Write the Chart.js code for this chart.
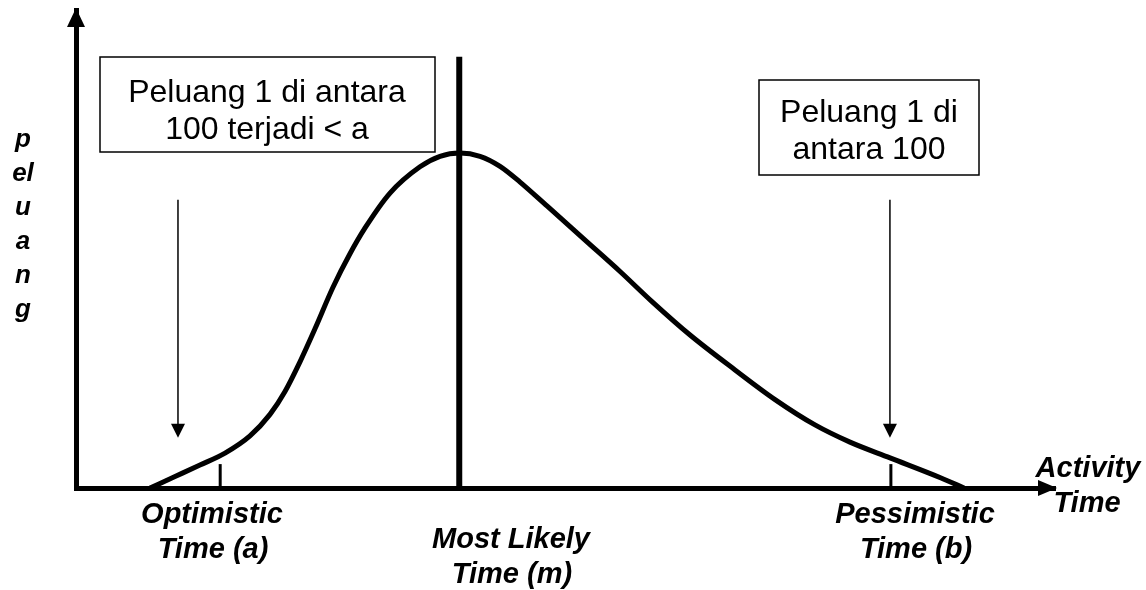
<!DOCTYPE html>
<html lang="en">
<head>
    <meta charset="UTF-8">
    <title>Distribusi Waktu Aktivitas</title>
    <script src="https://cdn.jsdelivr.net/npm/chart.js"></script>
    <style>
        body { margin: 0; background: #fff; }
        #wrap { width: 1146px; height: 590px; }
    </style>
</head>
<body>
<div id="wrap"><canvas id="chart" width="1146" height="590"></canvas></div>
<script>
// curve (x = activity time, y = peluang)
const timeX = [7.80, 10.44, 13.07, 15.71, 18.34, 20.45, 22.03, 23.61, 25.19, 27.09, 28.88, 30.47, 33.10, 36.26,
    38.37, 40.48, 42.59, 44.70, 46.81, 49.65, 53.87, 57.35, 60.72, 64.73, 69.47, 73.69, 77.90, 81.59, 85.81, 91.19, 93.61];
const peluangY = [0, 2.4, 4.8, 7.3, 10.9, 15.4, 20.2, 26.4, 33.3, 42.0, 49.0, 54.4, 61.7, 67.2,
    69.4, 70.1, 69.4, 67.3, 64.0, 59.0, 51.5, 45.3, 39.0, 32.0, 24.7, 18.5, 13.2, 9.6, 6.3, 2.1, 0];

const tOptimistic = 15.2;   // a
const tMostLikely = 40.4;   // m
const tPessimistic = 85.9;  // b
const tickTop = 5.0;
const modeTop = 90.2;

// the two "1 in 100" arrows: x, from y, to y
const arrowX = [10.75, 85.8];
const arrowFrom = 60.3;
const arrowTo = 10.5;

const boxTexts = [['Peluang 1 di antara', '100 terjadi < a'], ['Peluang 1 di', 'antara 100']];
const bottomLabels = [['Optimistic', 'Time (a)'], ['Most Likely', 'Time (m)'], ['Pessimistic', 'Time (b)']];
const axisLabelX = ['Activity', 'Time'];
const axisLabelY = ['p', 'el', 'u', 'a', 'n', 'g'];

const curve = timeX.map((x, i) => ({ x: x, y: peluangY[i] }));

// arrows, boxes and texts on top of the chart
const extras = {
    id: 'extras',
    afterDraw(chart) {
        const ctx = chart.ctx;
        const xs = chart.scales.x, ys = chart.scales.y;
        const area = chart.chartArea;
        ctx.save();
        ctx.fillStyle = '#000';
        ctx.strokeStyle = '#000';

        // axis arrow heads
        ctx.beginPath();
        ctx.moveTo(area.left, area.top - 2);
        ctx.lineTo(area.left - 9, area.top + 17);
        ctx.lineTo(area.left + 9, area.top + 17);
        ctx.closePath();
        ctx.fill();
        ctx.beginPath();
        ctx.moveTo(area.right + 2, area.bottom);
        ctx.lineTo(area.right - 17, area.bottom - 8);
        ctx.lineTo(area.right - 17, area.bottom + 8);
        ctx.closePath();
        ctx.fill();

        // thin arrows
        ctx.lineWidth = 1.5;
        arrowX.forEach(v => {
            const px = xs.getPixelForValue(v);
            const y0 = ys.getPixelForValue(arrowFrom);
            const y1 = ys.getPixelForValue(arrowTo);
            ctx.beginPath();
            ctx.moveTo(px, y0);
            ctx.lineTo(px, y1 - 12);
            ctx.stroke();
            ctx.beginPath();
            ctx.moveTo(px, y1);
            ctx.lineTo(px - 7, y1 - 14);
            ctx.lineTo(px + 7, y1 - 14);
            ctx.closePath();
            ctx.fill();
        });

        // boxes
        ctx.lineWidth = 1.5;
        ctx.fillStyle = '#fff';
        ctx.fillRect(100, 57, 335, 95);
        ctx.strokeRect(100, 57, 335, 95);
        ctx.fillRect(759, 80, 220, 95);
        ctx.strokeRect(759, 80, 220, 95);

        ctx.fillStyle = '#000';
        ctx.textAlign = 'center';
        ctx.textBaseline = 'alphabetic';
        ctx.font = '32px "Liberation Sans", Arial, sans-serif';
        ctx.fillText(boxTexts[0][0], 267, 102);
        ctx.fillText(boxTexts[0][1], 267, 139);
        ctx.fillText(boxTexts[1][0], 869, 122);
        ctx.fillText(boxTexts[1][1], 869, 159);

        // labels under the axis
        ctx.font = 'italic bold 29px "Liberation Sans", Arial, sans-serif';
        const bl = [[212, 523], [511, 548], [915, 523]];
        bottomLabels.forEach((lines, i) => {
            ctx.fillText(lines[0], bl[i][0], bl[i][1]);
            ctx.fillText(lines[1], bl[i][0] + 1, bl[i][1] + 35);
        });
        ctx.fillText(axisLabelX[0], 1088, 477);
        ctx.fillText(axisLabelX[1], 1087, 512);

        // vertical y label
        ctx.textBaseline = 'middle';
        ctx.font = 'italic bold 26px "Liberation Sans", Arial, sans-serif';
        axisLabelY.forEach((s, i) => {
            ctx.fillText(s, 23, 140 + i * 34);
        });
        ctx.restore();
    }
};

new Chart(document.getElementById('chart').getContext('2d'), {
    type: 'scatter',
    data: {
        datasets: [
            { data: curve, showLine: true, borderColor: '#000', borderWidth: 5, pointRadius: 0,
              cubicInterpolationMode: 'monotone', clip: false },
            { data: [{ x: tMostLikely, y: 0 }, { x: tMostLikely, y: modeTop }], showLine: true,
              borderColor: '#000', borderWidth: 6, pointRadius: 0, clip: false },
            { data: [{ x: tOptimistic, y: 0 }, { x: tOptimistic, y: tickTop }], showLine: true,
              borderColor: '#000', borderWidth: 3, pointRadius: 0, clip: false },
            { data: [{ x: tPessimistic, y: 0 }, { x: tPessimistic, y: tickTop }], showLine: true,
              borderColor: '#000', borderWidth: 3, pointRadius: 0, clip: false }
        ]
    },
    options: {
        responsive: false,
        animation: false,
        events: [],
        layout: { padding: { left: 76, right: 91, top: 10, bottom: 102 } },
        plugins: { legend: { display: false }, tooltip: { enabled: false } },
        scales: {
            x: { type: 'linear', min: 0, max: 103.2,
                 ticks: { display: false }, grid: { display: false, drawTicks: false },
                 border: { display: true, color: '#000', width: 5 } },
            y: { type: 'linear', min: 0, max: 100,
                 ticks: { display: false }, grid: { display: false, drawTicks: false },
                 border: { display: true, color: '#000', width: 5 } }
        }
    },
    plugins: [extras]
});
</script>
</body>
</html>
